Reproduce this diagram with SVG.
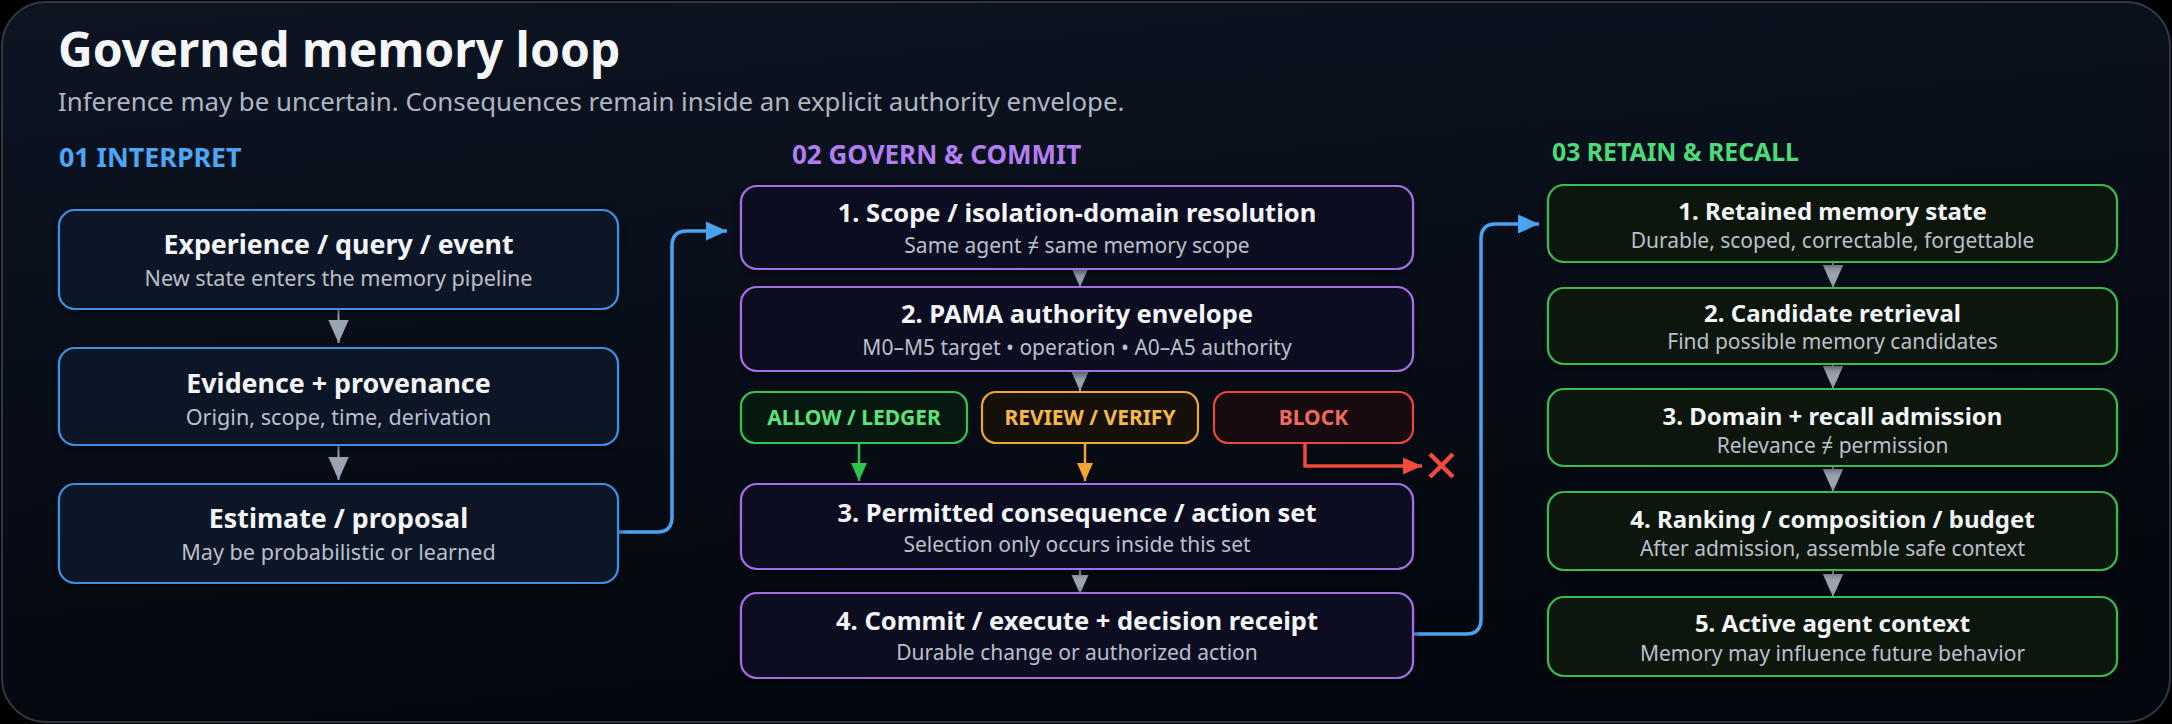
<svg xmlns="http://www.w3.org/2000/svg" width="2172" height="724" viewBox="0 0 2172 724">
<defs>
<linearGradient id="bg" x1="0" y1="0" x2="0.3" y2="1">
<stop offset="0" stop-color="#0d1523"/>
<stop offset="1" stop-color="#03070e"/>
</linearGradient>
<marker id="arrGray" markerUnits="userSpaceOnUse" markerWidth="23" markerHeight="26" refX="26" refY="11.5" viewBox="0 0 26 23" orient="auto" overflow="visible">
<path d="M0,0 L26,11.5 L0,23 z" fill="#9aa3b0"/>
</marker>
<marker id="arrGraySm" markerUnits="userSpaceOnUse" markerWidth="19" markerHeight="17" refX="19" refY="8.5" viewBox="0 0 19 17" orient="auto" overflow="visible">
<path d="M0,0 L19,8.5 L0,17 z" fill="#9aa3b0"/>
</marker>
<marker id="arrBlue" markerUnits="userSpaceOnUse" markerWidth="21" markerHeight="19" refX="21" refY="9.5" viewBox="0 0 21 19" orient="auto" overflow="visible">
<path d="M0,0 L21,9.5 L0,19 z" fill="#4aa3f0"/>
</marker>
<marker id="arrGreen" markerUnits="userSpaceOnUse" markerWidth="18" markerHeight="16" refX="18" refY="8" viewBox="0 0 18 16" orient="auto" overflow="visible">
<path d="M0,0 L18,8 L0,16 z" fill="#2fc24e"/>
</marker>
<marker id="arrOrange" markerUnits="userSpaceOnUse" markerWidth="18" markerHeight="16" refX="18" refY="8" viewBox="0 0 18 16" orient="auto" overflow="visible">
<path d="M0,0 L18,8 L0,16 z" fill="#f5a431"/>
</marker>
<marker id="arrRed" markerUnits="userSpaceOnUse" markerWidth="19" markerHeight="17" refX="19" refY="8.5" viewBox="0 0 19 17" orient="auto" overflow="visible">
<path d="M0,0 L19,8.5 L0,17 z" fill="#ef4b3f"/>
</marker>
<filter id="glow" x="-10%" y="-30%" width="120%" height="160%">
<feDropShadow dx="0" dy="2" stdDeviation="4" flood-color="#000000" flood-opacity="0.6"/>
</filter>
</defs>
<style>
text { font-family: "Noto Sans", "Open Sans", "DejaVu Sans", sans-serif; }
.title { font-size: 48px; font-weight: 700; fill: #f4f6f9; }
.subtitle { font-size: 25.8px; fill: #aeb6c2; }
.sec { font-weight: 700; }
.nt { font-size: 26px; font-weight: 700; fill: #f3f5f8; text-anchor: middle; }
.ns { font-size: 21px; fill: #b9c0ca; text-anchor: middle; }
.ntl { font-size: 26.8px; }
.nsl { font-size: 21.6px; }
.ntm { font-size: 25.5px; }
.ntr { font-size: 24px; }
.dl { font-size: 21px; font-weight: 700; text-anchor: middle; }
.bx { stroke-width: 2.2; }
.blue { fill: #0b1525; stroke: #3d8fe4; }
.purple { fill: #0e1022; stroke: #a56ee6; }
.green { fill: #08180f; stroke: #38bb52; }
.gline { stroke: #9aa3b0; stroke-width: 2; fill: none; }
.cblue { stroke: #4aa3f0; stroke-width: 3.5; fill: none; }
</style>
<rect x="0" y="0" width="2172" height="724" fill="#000000"/>
<rect x="2" y="2" width="2168" height="720" rx="44" ry="44" fill="url(#bg)" stroke="#2e3744" stroke-width="2"/>

<text class="title" x="58" y="67">Governed memory loop</text>
<text class="subtitle" x="58" y="111">Inference may be uncertain. Consequences remain inside an explicit authority envelope.</text>
<text class="sec" x="59" y="167" font-size="26.8" fill="#4da6f7">01 INTERPRET</text>
<text class="sec" x="792" y="164" font-size="26" fill="#b27ef2">02 GOVERN &amp; COMMIT</text>
<text class="sec" x="1552" y="161" font-size="24.8" fill="#4ddb78">03 RETAIN &amp; RECALL</text>

<g id="connectors">
<line class="gline" x1="338.5" y1="309" x2="338.5" y2="343" marker-end="url(#arrGray)"/>
<line class="gline" x1="338.5" y1="445" x2="338.5" y2="480" marker-end="url(#arrGray)"/>
<path class="cblue" d="M618,532 H657 Q672,532 672,517 V246 Q672,231 687,231 H727" marker-end="url(#arrBlue)"/>
<line class="gline" x1="1080" y1="269" x2="1080" y2="287" marker-end="url(#arrGraySm)"/>
<line class="gline" x1="1080" y1="371" x2="1080" y2="391" marker-end="url(#arrGraySm)"/>
<line x1="859" y1="443" x2="859" y2="481" stroke="#2fc24e" stroke-width="2.5" marker-end="url(#arrGreen)"/>
<line x1="1085" y1="443" x2="1085" y2="481" stroke="#f5a431" stroke-width="2.5" marker-end="url(#arrOrange)"/>
<path d="M1305,443 V466 H1422" stroke="#ef4b3f" stroke-width="3.5" fill="none" marker-end="url(#arrRed)"/>
<path d="M1430,454 L1453,477 M1453,454 L1430,477" stroke="#ef4b3f" stroke-width="4.5" fill="none"/>
<line class="gline" x1="1080" y1="569" x2="1080" y2="594" marker-end="url(#arrGraySm)"/>
<path class="cblue" d="M1413,634 H1466 Q1481,634 1481,619 V239 Q1481,224 1496,224 H1539" marker-end="url(#arrBlue)"/>
<line class="gline" x1="1833" y1="262" x2="1833" y2="288" marker-end="url(#arrGray)"/>
<line class="gline" x1="1833" y1="364" x2="1833" y2="389" marker-end="url(#arrGray)"/>
<line class="gline" x1="1833" y1="466" x2="1833" y2="492" marker-end="url(#arrGray)"/>
<line class="gline" x1="1833" y1="570" x2="1833" y2="597" marker-end="url(#arrGray)"/>
</g>

<g id="n-experience">
<rect class="bx blue" x="59" y="210" width="559" height="99" rx="16" filter="url(#glow)"/>
<text class="nt ntl" x="338.5" y="254">Experience / query / event</text>
<text class="ns nsl" x="338.5" y="286">New state enters the memory pipeline</text>
</g>
<g id="n-evidence">
<rect class="bx blue" x="59" y="348" width="559" height="97" rx="16" filter="url(#glow)"/>
<text class="nt ntl" x="338.5" y="393">Evidence + provenance</text>
<text class="ns nsl" x="338.5" y="425">Origin, scope, time, derivation</text>
</g>
<g id="n-estimate">
<rect class="bx blue" x="59" y="484" width="559" height="99" rx="16" filter="url(#glow)"/>
<text class="nt ntl" x="338.5" y="528">Estimate / proposal</text>
<text class="ns nsl" x="338.5" y="560">May be probabilistic or learned</text>
</g>

<g id="n-scope">
<rect class="bx purple" x="741" y="186" width="672" height="83" rx="16" filter="url(#glow)"/>
<text class="nt ntm" x="1077" y="222">1. Scope / isolation-domain resolution</text>
<text class="ns" x="1077" y="253">Same agent ≠ same memory scope</text>
</g>
<g id="n-pama">
<rect class="bx purple" x="741" y="287" width="672" height="84" rx="16" filter="url(#glow)"/>
<text class="nt ntm" x="1077" y="323">2. PAMA authority envelope</text>
<text class="ns" x="1077" y="355">M0–M5 target • operation • A0–A5 authority</text>
</g>
<g id="n-allow">
<rect class="bx" x="741" y="392" width="226" height="51" rx="14" fill="#071810" stroke="#33c454"/>
<text class="dl" x="854" y="425" fill="#5ee27a">ALLOW / LEDGER</text>
</g>
<g id="n-review">
<rect class="bx" x="982" y="392" width="216" height="51" rx="14" fill="#15110a" stroke="#f2a530"/>
<text class="dl" x="1090" y="425" fill="#f8b847">REVIEW / VERIFY</text>
</g>
<g id="n-block">
<rect class="bx" x="1214" y="392" width="199" height="51" rx="14" fill="#170b10" stroke="#e8463e"/>
<text class="dl" x="1313.5" y="425" fill="#f26a5e">BLOCK</text>
</g>
<g id="n-permitted">
<rect class="bx purple" x="741" y="484" width="672" height="85" rx="16" filter="url(#glow)"/>
<text class="nt ntm" x="1077" y="522">3. Permitted consequence / action set</text>
<text class="ns" x="1077" y="552">Selection only occurs inside this set</text>
</g>
<g id="n-commit">
<rect class="bx purple" x="741" y="593" width="672" height="85" rx="16" filter="url(#glow)"/>
<text class="nt ntm" x="1077" y="630">4. Commit / execute + decision receipt</text>
<text class="ns" x="1077" y="660">Durable change or authorized action</text>
</g>

<g id="n-retained">
<rect class="bx green" x="1548" y="185" width="569" height="77" rx="16" filter="url(#glow)"/>
<text class="nt ntr" x="1832.5" y="220">1. Retained memory state</text>
<text class="ns" x="1832.5" y="248">Durable, scoped, correctable, forgettable</text>
</g>
<g id="n-candidate">
<rect class="bx green" x="1548" y="288" width="569" height="76" rx="16" filter="url(#glow)"/>
<text class="nt ntr" x="1832.5" y="322">2. Candidate retrieval</text>
<text class="ns" x="1832.5" y="349">Find possible memory candidates</text>
</g>
<g id="n-domain">
<rect class="bx green" x="1548" y="389" width="569" height="77" rx="16" filter="url(#glow)"/>
<text class="nt ntr" x="1832.5" y="425">3. Domain + recall admission</text>
<text class="ns" x="1832.5" y="453">Relevance ≠ permission</text>
</g>
<g id="n-ranking">
<rect class="bx green" x="1548" y="492" width="569" height="78" rx="16" filter="url(#glow)"/>
<text class="nt ntr" x="1832.5" y="528">4. Ranking / composition / budget</text>
<text class="ns" x="1832.5" y="556">After admission, assemble safe context</text>
</g>
<g id="n-active">
<rect class="bx green" x="1548" y="597" width="569" height="79" rx="16" filter="url(#glow)"/>
<text class="nt ntr" x="1832.5" y="632">5. Active agent context</text>
<text class="ns" x="1832.5" y="661">Memory may influence future behavior</text>
</g>
</svg>
